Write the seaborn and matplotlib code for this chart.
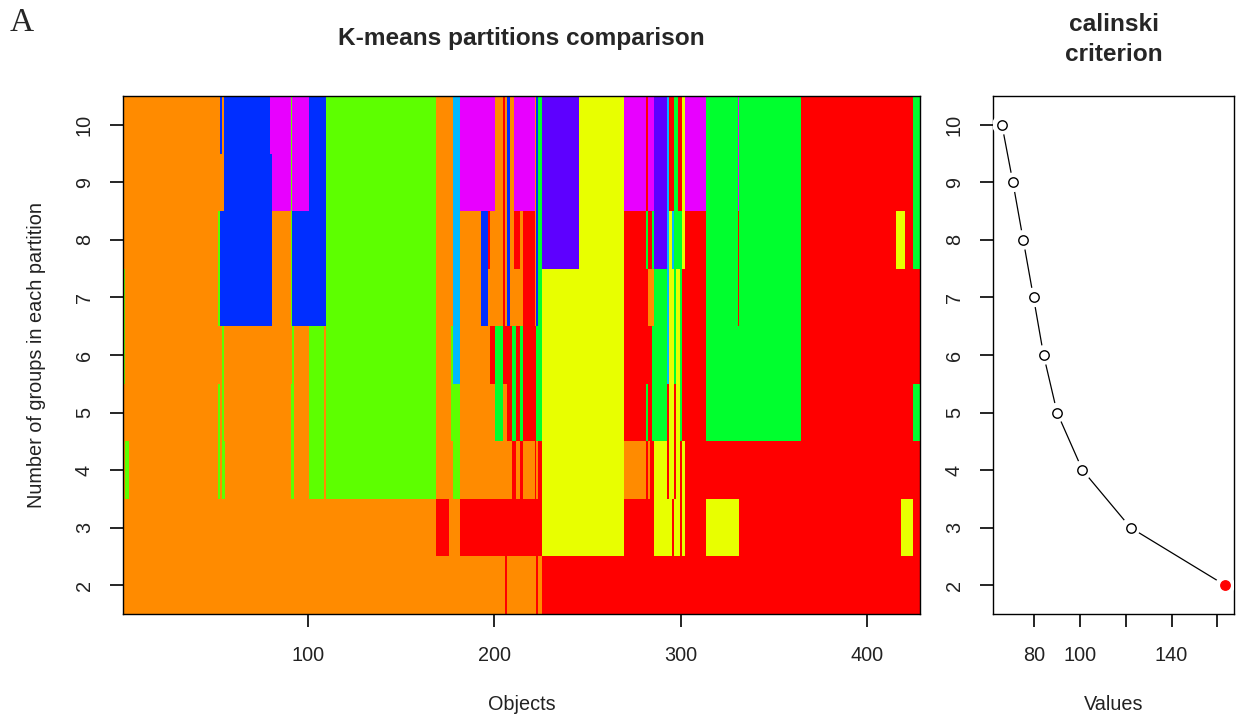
import numpy as np
import pandas as pd
import matplotlib
matplotlib.use("Agg")
import matplotlib.pyplot as plt
from matplotlib.colors import ListedColormap
import seaborn as sns

sns.set_theme(style="ticks")
plt.rcParams.update({
    "font.family": ["Liberation Sans", "DejaVu Sans"],
    "axes.axisbelow": False,
    "xtick.bottom": True, "ytick.left": True,
    "xtick.top": False, "ytick.right": False,
    "xtick.direction": "out", "ytick.direction": "out",
    "xtick.major.size": 9.4, "ytick.major.size": 9.4,
    "xtick.major.width": 1.2, "ytick.major.width": 1.2,
    "xtick.major.pad": 13.6, "ytick.major.pad": 11.5,
    "xtick.color": "black", "ytick.color": "black",
    "xtick.labelcolor": "#222222", "ytick.labelcolor": "#222222",
    "xtick.labelsize": 14.3, "ytick.labelsize": 14.3,
})

# ---- data -------------------------------------------------------------
n_objects = 428
group_counts = [10, 9, 8, 7, 6, 5, 4, 3, 2]          # rows, top to bottom

# cluster colours (R rainbow-style hues)
color_codes = ["R", "O", "Y", "L", "G", "C", "B", "P", "M"]
color_values = ["#FF0000", "#FF8B00", "#E8FF00", "#5DFF00", "#00FF2E",
                "#00B9FF", "#002EFF", "#5D00FF", "#E800FF"]

# each partition as runs of (cluster colour, last object of the run)
part_k10 = [("O", 52), ("B", 53), ("O", 54), ("B", 79), ("M", 90), ("L", 91), ("M", 100),
            ("B", 109), ("L", 168), ("O", 177), ("C", 181), ("M", 200), ("O", 204), ("R", 205),
            ("O", 206), ("B", 208), ("O", 210), ("M", 221), ("O", 222), ("B", 223), ("G", 225),
            ("P", 245), ("Y", 269), ("M", 281), ("R", 282), ("M", 285), ("P", 292), ("C", 293),
            ("R", 296), ("G", 298), ("R", 300), ("Y", 302), ("M", 313), ("G", 330), ("M", 331),
            ("G", 364), ("R", 424), ("G", 428)]
part_k9 = [("O", 54), ("B", 80), ("M", 90), ("L", 91), ("M", 100), ("B", 109), ("L", 168),
           ("O", 177), ("C", 181), ("M", 200), ("O", 204), ("R", 205), ("O", 206), ("B", 208),
           ("O", 210), ("M", 221), ("O", 222), ("B", 223), ("G", 225), ("P", 245), ("Y", 269),
           ("M", 281), ("R", 282), ("M", 285), ("P", 292), ("C", 293), ("R", 296), ("G", 298),
           ("R", 300), ("Y", 302), ("M", 313), ("G", 330), ("M", 331), ("G", 364), ("R", 424),
           ("G", 428)]
part_k8 = [("O", 51), ("L", 52), ("B", 80), ("O", 90), ("L", 91), ("B", 109), ("L", 168),
           ("O", 177), ("C", 181), ("O", 192), ("B", 196), ("R", 197), ("O", 204), ("R", 205),
           ("O", 206), ("B", 208), ("O", 210), ("R", 213), ("O", 215), ("R", 221), ("O", 222),
           ("B", 223), ("G", 225), ("P", 245), ("Y", 269), ("R", 281), ("G", 282), ("R", 284),
           ("G", 285), ("P", 292), ("C", 293), ("Y", 295), ("C", 296), ("G", 300), ("Y", 302),
           ("R", 313), ("G", 330), ("R", 331), ("G", 364), ("R", 415), ("Y", 420), ("R", 424),
           ("G", 428)]
part_k7 = [("L", 1), ("O", 51), ("L", 52), ("B", 80), ("O", 90), ("L", 91), ("B", 109),
           ("L", 168), ("O", 177), ("C", 181), ("O", 192), ("B", 196), ("O", 204), ("R", 205),
           ("O", 206), ("B", 208), ("O", 215), ("R", 221), ("O", 222), ("B", 223), ("G", 225),
           ("Y", 269), ("R", 282), ("O", 285), ("G", 292), ("C", 293), ("Y", 296), ("G", 297),
           ("Y", 299), ("G", 300), ("R", 313), ("G", 330), ("R", 331), ("G", 364), ("R", 428)]
part_k6 = [("L", 1), ("O", 53), ("L", 54), ("O", 91), ("L", 92), ("O", 100), ("L", 108),
           ("O", 109), ("L", 168), ("O", 176), ("L", 177), ("C", 181), ("O", 197), ("R", 200),
           ("G", 204), ("R", 209), ("G", 211), ("R", 213), ("G", 215), ("R", 222), ("G", 225),
           ("Y", 269), ("R", 284), ("G", 292), ("C", 293), ("Y", 296), ("G", 297), ("Y", 299),
           ("G", 300), ("R", 313), ("G", 364), ("R", 428)]
part_k5 = [("O", 51), ("L", 52), ("O", 53), ("L", 54), ("O", 90), ("L", 92), ("O", 100),
           ("L", 108), ("O", 109), ("L", 168), ("O", 176), ("L", 181), ("O", 200), ("G", 204),
           ("O", 206), ("R", 209), ("G", 211), ("R", 213), ("G", 215), ("R", 222), ("G", 225),
           ("Y", 269), ("R", 281), ("G", 282), ("R", 284), ("G", 292), ("R", 293), ("Y", 296),
           ("R", 297), ("Y", 299), ("G", 300), ("R", 313), ("G", 364), ("R", 424), ("G", 428)]
part_k4 = [("O", 1), ("L", 3), ("O", 51), ("L", 52), ("O", 53), ("L", 55), ("O", 90),
           ("L", 92), ("O", 100), ("L", 108), ("O", 109), ("L", 168), ("O", 177), ("L", 181),
           ("O", 209), ("R", 211), ("O", 213), ("R", 215), ("O", 221), ("R", 222), ("O", 223),
           ("R", 225), ("Y", 269), ("O", 281), ("R", 282), ("O", 283), ("R", 285), ("Y", 292),
           ("R", 293), ("Y", 296), ("R", 297), ("Y", 299), ("R", 300), ("Y", 302), ("R", 428)]
part_k3 = [("O", 168), ("R", 175), ("O", 181), ("R", 225), ("Y", 269), ("R", 285), ("Y", 295),
           ("R", 296), ("Y", 299), ("R", 300), ("Y", 302), ("R", 313), ("Y", 331), ("R", 418),
           ("Y", 424), ("R", 428)]
part_k2 = [("O", 205), ("R", 206), ("O", 222), ("R", 223), ("O", 225), ("R", 428)]

partitions = [part_k10, part_k9, part_k8, part_k7, part_k6, part_k5, part_k4, part_k3, part_k2]

# Calinski-Harabasz criterion for each number of groups
calinski_groups = [10, 9, 8, 7, 6, 5, 4, 3, 2]
calinski_values = [65.9, 70.7, 75.2, 79.7, 84.1, 90.0, 101.1, 122.1, 163.4]

x_ticks = [100, 200, 300, 400]
value_ticks = [80, 100, 120, 140, 160]
value_tick_labels = ["80", "100", "", "140", ""]

# ---- build partition matrix ------------------------------------------
code_index = {c: i for i, c in enumerate(color_codes)}
matrix = np.zeros((len(partitions), n_objects), dtype=int)
for r, runs in enumerate(partitions):
    start = 0
    for code, last in runs:
        matrix[r, start:last] = code_index[code]
        start = last
part_df = pd.DataFrame(matrix, index=group_counts, columns=np.arange(1, n_objects + 1))

# ---- figure -------------------------------------------------------------
W, H = 1236, 715
fig = plt.figure(figsize=(W / 100, H / 100), dpi=100)

def box(x0, y0, x1, y1):
    return [x0 / W, 1 - y1 / H, (x1 - x0) / W, (y1 - y0) / H]

ax1 = fig.add_axes(box(123, 96, 920, 614))
ax2 = fig.add_axes(box(993, 96, 1234, 614))

label_fs = 14.3
title_fs = 17.6

sns.heatmap(part_df, ax=ax1, cmap=ListedColormap(color_values), vmin=-0.5,
            vmax=len(color_values) - 0.5, cbar=False, linewidths=0, rasterized=True)
ax1.set_xticks([t - 0.5 for t in x_ticks])
ax1.set_xticklabels([str(t) for t in x_ticks], rotation=0)
ax1.set_yticks(np.arange(len(group_counts)) + 0.5)
ax1.set_yticklabels([str(g) for g in group_counts], rotation=90, va="center")
ax1.set_xlabel("Objects", fontsize=label_fs, labelpad=22)
ax1.set_ylabel("Number of groups in each partition", fontsize=label_fs, labelpad=21)

# calinski panel: points joined by lines with small gaps
cal_df = pd.DataFrame({"groups": calinski_groups, "values": calinski_values})
best = cal_df.loc[cal_df["values"].idxmax()]
sns.lineplot(data=cal_df, x="values", y="groups", sort=False, color="black",
             linewidth=0.9, ax=ax2)
sns.scatterplot(data=cal_df, x="values", y="groups", s=200, color="white",
                edgecolor="none", ax=ax2, zorder=3)
sns.scatterplot(data=cal_df.drop(best.name), x="values", y="groups", s=46,
                facecolor="white", edgecolor="black", linewidth=1.0, ax=ax2, zorder=4)
sns.scatterplot(x=[best["values"]], y=[best["groups"]], s=46, color="red",
                edgecolor="red", linewidth=1.0, ax=ax2, zorder=5)
ax2.set_xlim(62.0, 167.3)
ax2.set_ylim(1.5, 10.5)
ax2.set_xticks(value_ticks)
ax2.set_xticklabels(value_tick_labels)
ax2.set_yticks(calinski_groups)
ax2.set_yticklabels([str(g) for g in calinski_groups], rotation=90, va="center")
ax2.set_xlabel("Values", fontsize=label_fs, labelpad=22)
ax2.set_ylabel("")

for ax in (ax1, ax2):
    for sp in ax.spines.values():
        sp.set_visible(True)
        sp.set_color("black")
        sp.set_linewidth(1.0)
    ax.tick_params(axis="both", which="major", direction="out", length=9.4, width=1.2,
                   color="black", bottom=True, left=True, top=False, right=False)
    ax.xaxis.label.set_color("#222222")
    ax.yaxis.label.set_color("#222222")

fig.text((123 + 920) / 2 / W, 1 - 38 / H, "K-means partitions comparison",
         ha="center", va="center", fontsize=title_fs, fontweight="bold")
fig.text((993 + 1234) / 2 / W, 1 - 39.5 / H, "calinski\ncriterion",
         ha="center", va="center", fontsize=title_fs, fontweight="bold", linespacing=1.4)
fig.text(10 / W, 1 - 23 / H, "A", ha="left", va="center", fontsize=24,
         family=["Liberation Serif", "DejaVu Serif"])

fig.savefig("out.png", dpi=100)
